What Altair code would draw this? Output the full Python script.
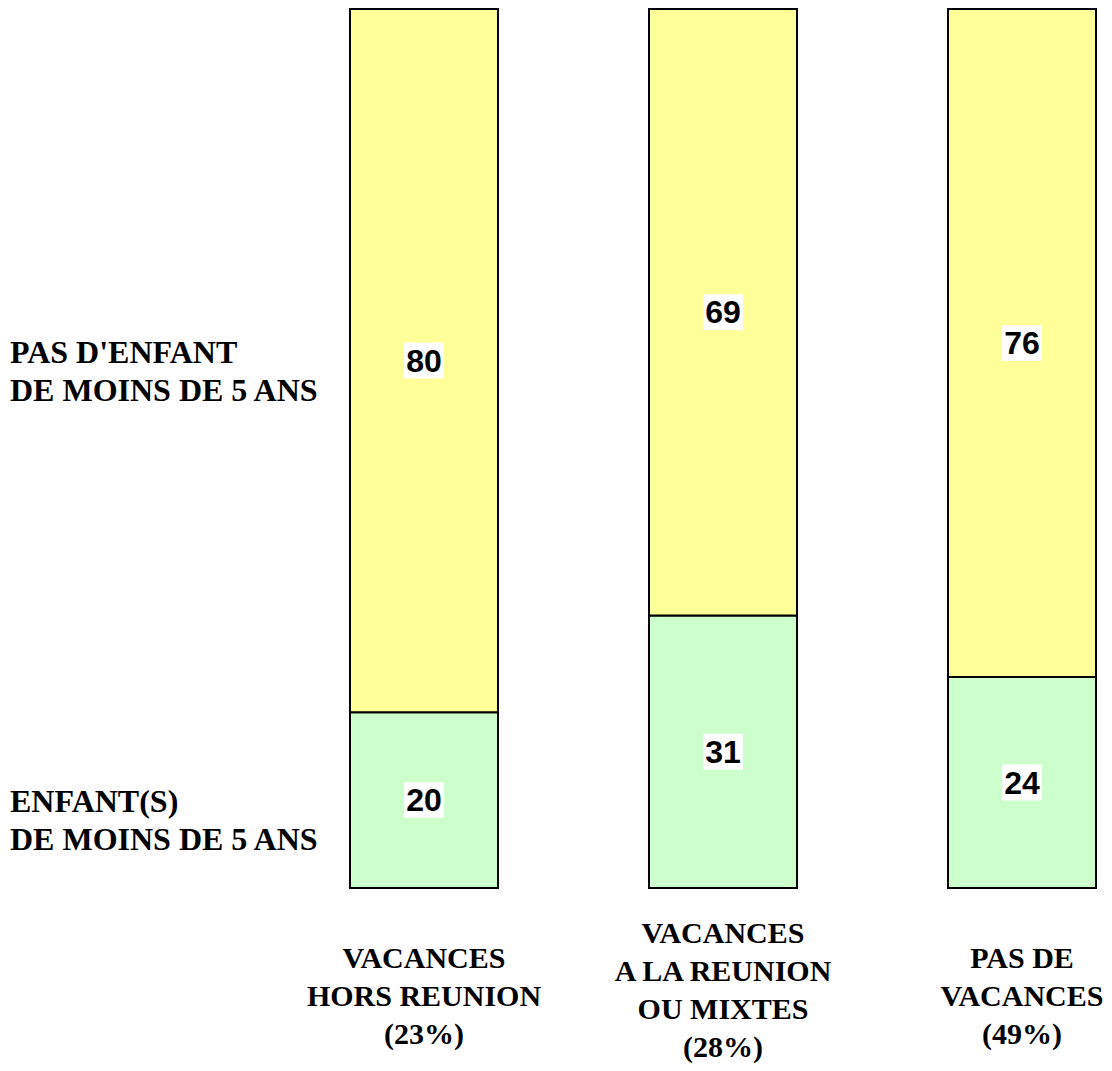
import altair as alt
import pandas as pd

cat_keys = ["hors", "reunion", "pas"]
cat_labels = ["VACANCES\nHORS REUNION\n(23%)",
              "VACANCES\nA LA REUNION\nOU MIXTES\n(28%)",
              "PAS DE\nVACANCES\n(49%)"]
groups = ["ENFANT(S)\nDE MOINS DE 5 ANS", "PAS D'ENFANT\nDE MOINS DE 5 ANS"]
group_order = [0, 1]
young = [20, 31, 24]
no_young = [80, 69, 76]
colors = ["#CCFFCC", "#FFFF99"]

rows = []
for i, k in enumerate(cat_keys):
    rows.append({"cat": k, "group": groups[0], "ord": group_order[0], "value": young[i]})
    rows.append({"cat": k, "group": groups[1], "ord": group_order[1], "value": no_young[i]})
df = pd.DataFrame(rows)
lab_df = pd.DataFrame({"cat": cat_keys, "label": cat_labels})
leg_df = pd.DataFrame({"group": groups, "ypix": [794, 345]})

xscale = alt.Scale(domain=cat_keys, range=[342, 1088], paddingInner=0.505, paddingOuter=0)
yscale = alt.Scale(domain=[0, 100], range=[880, 1])

base = alt.Chart(df).transform_stack(
    stack="value", groupby=["cat"], as_=["y0", "y1"], sort=[alt.SortField("ord")]
).transform_calculate(mid="(datum.y0 + datum.y1) / 2")

bars = base.mark_bar(stroke="black", strokeWidth=2).encode(
    x=alt.X("cat:N", scale=xscale, axis=None),
    y=alt.Y("y0:Q", scale=yscale, axis=None),
    y2="y1:Q",
    color=alt.Color("group:N", scale=alt.Scale(domain=groups, range=colors), legend=None),
)

boxes = base.mark_point(
    shape="M-1,-0.9L1,-0.9L1,0.9L-1,0.9Z", filled=True, color="white", opacity=1, size=1600
).encode(
    x=alt.X("cat:N", scale=xscale, axis=None),
    y=alt.Y("mid:Q", scale=yscale, axis=None),
)

vals = base.mark_text(
    font="Liberation Sans", fontWeight="bold", fontSize=32, color="black",
    align="center", baseline="middle", dy=1
).encode(
    x=alt.X("cat:N", scale=xscale, axis=None),
    y=alt.Y("mid:Q", scale=yscale, axis=None),
    text="value:Q",
)

cat_text = alt.Chart(lab_df).transform_calculate(
    nlines="length(split(datum.label, '\\n'))",
    ypos="989 - (datum.nlines - 1) * 19 - (datum.nlines > 3 ? 6 : 0)",
).mark_text(
    font="Liberation Serif", fontWeight="bold", fontSize=30, color="black",
    align="center", baseline="middle", lineBreak="\n", lineHeight=38
).encode(
    x=alt.X("cat:N", scale=xscale, axis=None),
    y=alt.Y("ypos:Q", scale=None, axis=None),
    text="label:N",
)

leg_text = alt.Chart(leg_df).mark_text(
    font="Liberation Serif", fontWeight="bold", fontSize=32, color="black",
    align="left", baseline="middle", lineBreak="\n", lineHeight=38
).encode(
    x=alt.value(2),
    y=alt.Y("ypix:Q", scale=None, axis=None),
    text="group:N",
)

chart = alt.layer(bars, boxes, vals, cat_text, leg_text).properties(
    width=1096, height=1055, padding=0,
    autosize=alt.AutoSizeParams(type="none"),
).configure(background="white", view=alt.ViewConfig(stroke=None))

chart.save("out.html", embed_options={"renderer": "svg", "actions": False})
